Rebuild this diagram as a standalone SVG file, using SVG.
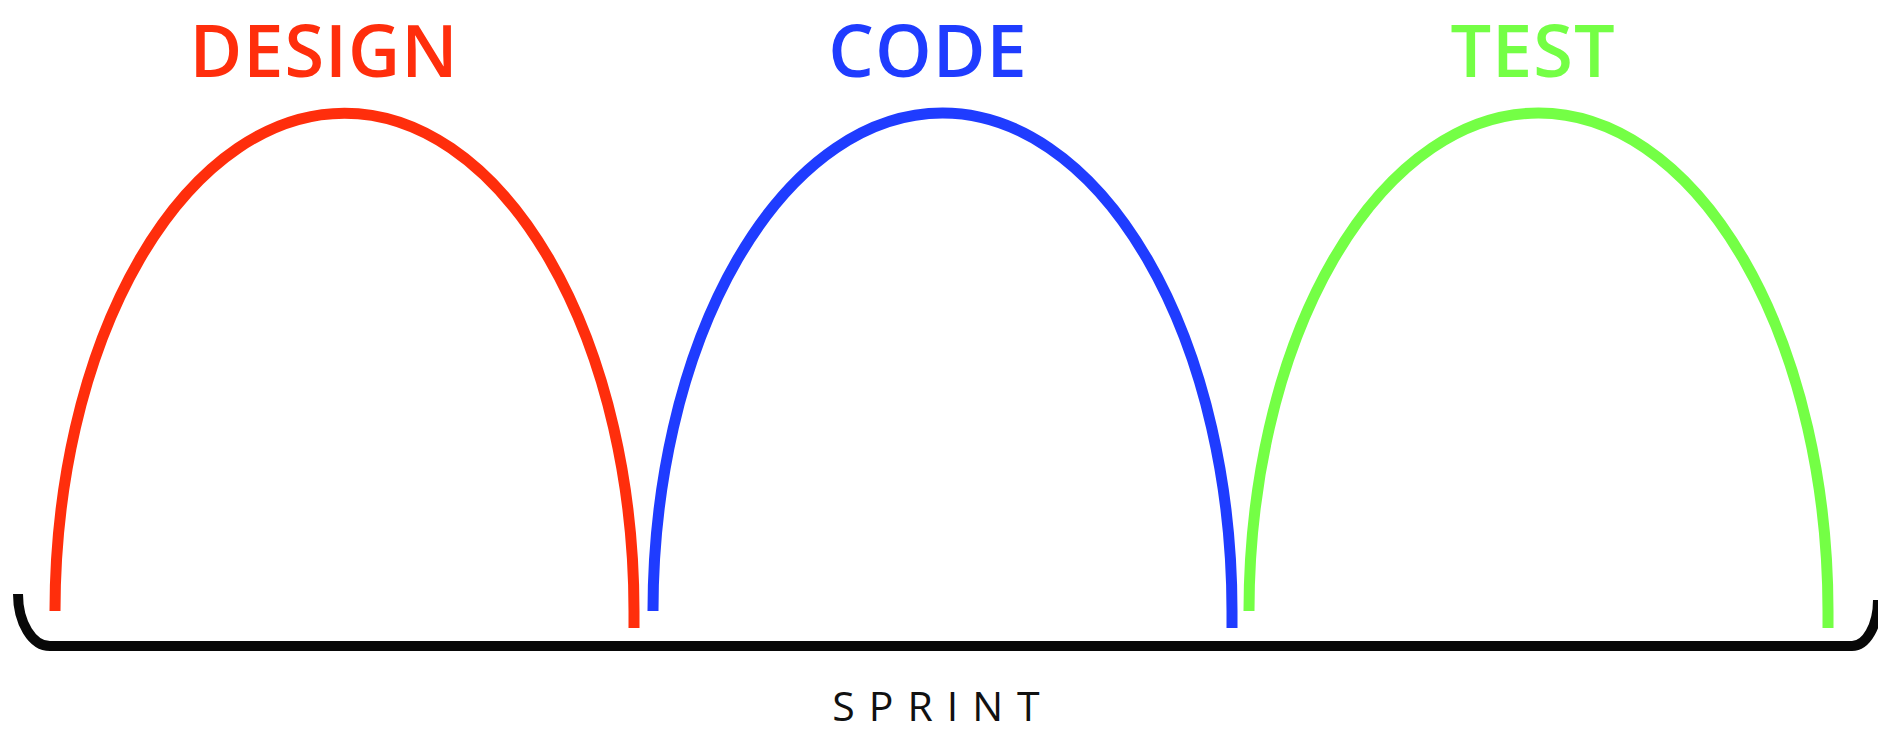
<svg xmlns="http://www.w3.org/2000/svg" width="1878" height="734" viewBox="0 0 1878 734">
  <style>
    .title { font-family: "Open Sans", "Liberation Sans", sans-serif; font-weight: 600; font-size: 72px; text-anchor: middle; letter-spacing: 1px; }
    .arc { fill: none; stroke-width: 11; stroke-linecap: butt; }
    .red { fill: #ff2e0c; stroke: #ff2e0c; }
    .blue { fill: #1f3cff; stroke: #1f3cff; }
    .green { fill: #74ff45; stroke: #74ff45; }
    .arc.red, .arc.blue, .arc.green { fill: none; }
    .title.red, .title.blue, .title.green { stroke: none; }
    .bracket { fill: none; stroke: #080808; stroke-width: 10; }
    .label { font-family: "Open Sans", "Liberation Sans", sans-serif; font-size: 41px; fill: #111; text-anchor: middle; letter-spacing: 14px; }
  </style>

  <rect width="1878" height="734" fill="#ffffff"/>

  <!-- phase: design -->
  <g id="design">
    <text class="title red" x="324" y="77">DESIGN</text>
    <path class="arc red" d="M 55 611 A 289.5 498 0 0 1 634 611 L 634 628"/>
  </g>

  <!-- phase: code -->
  <g id="code">
    <text class="title blue" x="928" y="77">CODE</text>
    <path class="arc blue" d="M 653 611 A 289.5 498 0 0 1 1232 611 L 1232 628"/>
  </g>

  <!-- phase: test -->
  <g id="test">
    <text class="title green" x="1533" y="77">TEST</text>
    <path class="arc green" d="M 1249 611 A 289.5 498 0 0 1 1828 611 L 1828 628"/>
  </g>

  <!-- sprint bracket spanning all phases -->
  <g id="sprint">
    <path class="bracket" d="M 18 594 A 32 52 0 0 0 50 646 L 1852 646 A 26 46 0 0 0 1878 600"/>
    <text class="label" x="943" y="721">SPRINT</text>
  </g>
</svg>
